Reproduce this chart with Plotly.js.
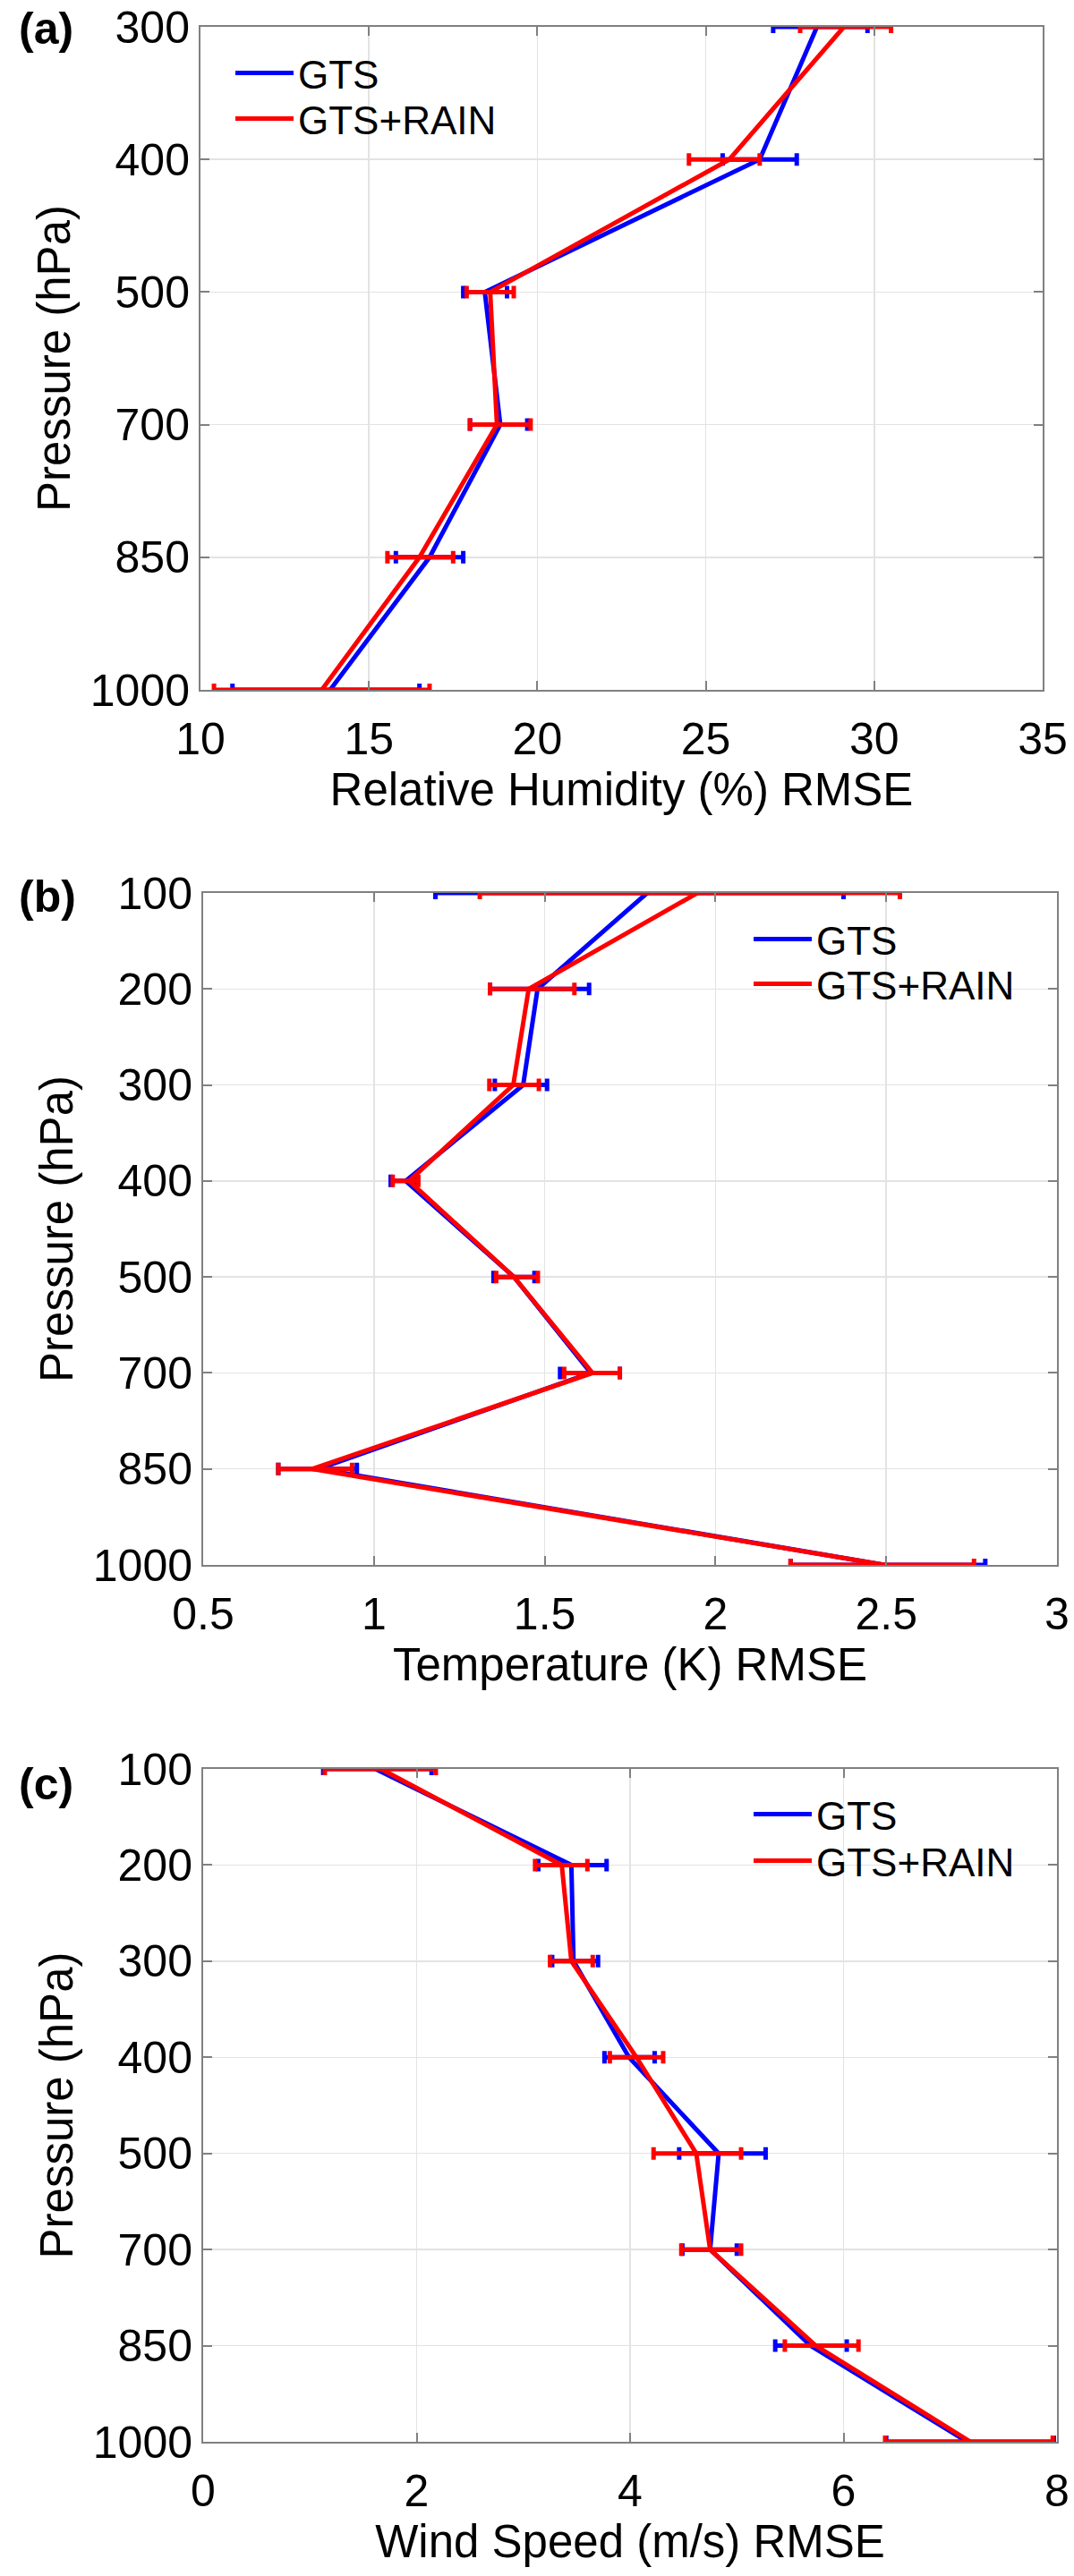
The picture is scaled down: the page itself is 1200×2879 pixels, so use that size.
<!DOCTYPE html>
<html>
<head>
<meta charset="utf-8">
<script src="https://cdn.plot.ly/plotly-3.0.1.min.js"></script>
<style>
  html, body { margin: 0; padding: 0; background: #fff; }
  #graphic { width: 1200px; height: 2879px; }
</style>
</head>
<body>
<div id="graphic"></div>
<script>
// pressure levels (hPa), drawn as equally spaced categories
var levelsA = ['300', '400', '500', '700', '850', '1000'];
var levelsBC = ['100', '200', '300', '400', '500', '700', '850', '1000'];

// (a) relative humidity RMSE (%)
var rhGts = [28.3, 26.6, 18.44, 18.9, 16.8, 13.85];
var rhGtsLo = [27.0, 25.5, 17.8, 18.0, 15.8, 10.95];
var rhGtsHi = [29.8, 27.7, 19.1, 19.7, 17.8, 16.5];
var rhRain = [29.1, 25.7, 18.6, 18.8, 16.5, 13.6];
var rhRainLo = [27.8, 24.5, 17.9, 18.0, 15.55, 10.4];
var rhRainHi = [30.5, 26.6, 19.3, 19.8, 17.5, 16.8];

// (b) temperature RMSE (K)
var tGts = [1.80, 1.479, 1.437, 1.093, 1.41, 1.635, 0.838, 2.495];
var tGtsLo = [1.18, 1.34, 1.354, 1.049, 1.35, 1.545, 0.72, 2.22];
var tGtsHi = [2.375, 1.63, 1.507, 1.12, 1.47, 1.72, 0.95, 2.79];
var tRain = [1.947, 1.453, 1.408, 1.103, 1.41, 1.64, 0.82, 2.495];
var tRainLo = [1.31, 1.34, 1.338, 1.055, 1.358, 1.557, 0.72, 2.22];
var tRainHi = [2.54, 1.587, 1.483, 1.13, 1.48, 1.72, 0.936, 2.757];

// (c) wind speed RMSE (m/s)
var wsGts = [1.614, 3.45, 3.47, 3.99, 4.83, 4.75, 5.69, 7.16];
var wsGtsLo = [1.125, 3.14, 3.27, 3.76, 4.46, 4.49, 5.36, 6.4];
var wsGtsHi = [2.14, 3.78, 3.70, 4.23, 5.27, 5.0, 6.03, 7.97];
var wsRain = [1.665, 3.36, 3.45, 4.06, 4.62, 4.75, 5.74, 7.19];
var wsRainLo = [1.14, 3.11, 3.25, 3.81, 4.22, 4.48, 5.45, 6.39];
var wsRainHi = [2.18, 3.6, 3.65, 4.31, 5.04, 5.04, 6.14, 7.96];

var FONT = 'Liberation Sans, Arial, Helvetica, sans-serif';
var BLUE = '#0000ff';
var RED = '#ff0000';
var W = 1200, H = 2879;

function profile(name, color, levels, vals, lo, hi, xa, ya, leg) {
    return {
        x: vals,
        y: levels,
        type: 'scatter',
        mode: 'lines',
        name: name,
        xaxis: xa,
        yaxis: ya,
        legend: leg,
        cliponaxis: false,
        line: { color: color, width: 5 },
        error_x: {
            type: 'data',
            symmetric: false,
            array: hi.map(function (h, i) { return h - vals[i]; }),
            arrayminus: lo.map(function (l, i) { return vals[i] - l; }),
            color: color,
            thickness: 5,
            width: 7
        },
        hoverinfo: 'skip'
    };
}

var data = [
    profile('GTS', BLUE, levelsA, rhGts, rhGtsLo, rhGtsHi, 'x', 'y', 'legend'),
    profile('GTS+RAIN', RED, levelsA, rhRain, rhRainLo, rhRainHi, 'x', 'y', 'legend2'),
    profile('GTS', BLUE, levelsBC, tGts, tGtsLo, tGtsHi, 'x2', 'y2', 'legend3'),
    profile('GTS+RAIN', RED, levelsBC, tRain, tRainLo, tRainHi, 'x2', 'y2', 'legend4'),
    profile('GTS', BLUE, levelsBC, wsGts, wsGtsLo, wsGtsHi, 'x3', 'y3', 'legend5'),
    profile('GTS+RAIN', RED, levelsBC, wsRain, wsRainLo, wsRainHi, 'x3', 'y3', 'legend6')
];

function xAxis(domain, range, dtick, title, anchor) {
    return {
        domain: domain, range: range, dtick: dtick, tick0: 0, anchor: anchor,
        showline: true, linecolor: '#808080', linewidth: 2, mirror: 'ticks',
        ticks: 'inside', ticklen: 10, tickwidth: 2, tickcolor: '#808080',
        showgrid: true, gridcolor: '#e3e3e3', gridwidth: 1.5, zeroline: false,
        tickfont: { family: FONT, size: 50, color: '#000' },
        ticklabelstandoff: 10,
        title: { text: title, font: { family: FONT, size: 51, color: '#000' }, standoff: 10 }
    };
}

function yAxis(domain, levels, anchor) {
    return {
        domain: domain, type: 'category', categoryarray: levels,
        range: [levels.length - 1, 0], anchor: anchor,
        showline: true, linecolor: '#808080', linewidth: 2, mirror: 'ticks',
        ticks: 'inside', ticklen: 10, tickwidth: 2, tickcolor: '#808080',
        showgrid: true, gridcolor: '#e3e3e3', gridwidth: 1.5, zeroline: false,
        tickfont: { family: FONT, size: 50, color: '#000' },
        ticklabelstandoff: 0,
        title: { text: 'Pressure (hPa)', font: { family: FONT, size: 51, color: '#000' }, standoff: 6 }
    };
}

// one legend per entry, so each row can sit where the reference puts it
function legendRow(xPx, yPx) {
    return {
        x: xPx / W, y: 1 - yPx / H, xanchor: 'left', yanchor: 'middle',
        bgcolor: 'rgba(0,0,0,0)', borderwidth: 0,
        font: { family: FONT, size: 44, color: '#000' },
        itemwidth: 65
    };
}

function panelLabel(text, yPx) {
    return {
        text: '<b>' + text + '</b>', xref: 'paper', yref: 'paper',
        x: 19 / W, y: 1 - yPx / H, xanchor: 'left', yanchor: 'middle',
        showarrow: false, font: { family: FONT, size: 50, color: '#000' }
    };
}

var layout = {
    width: W,
    height: H,
    margin: { l: 0, r: 0, t: 0, b: 0 },
    paper_bgcolor: '#fff',
    plot_bgcolor: '#fff',
    showlegend: true,
    xaxis: xAxis([224 / W, 1165 / W], [10, 35], 5, 'Relative Humidity (%) RMSE', 'y'),
    yaxis: yAxis([1 - 771 / H, 1 - 30 / H], levelsA, 'x'),
    xaxis2: xAxis([227 / W, 1181 / W], [0.5, 3], 0.5, 'Temperature (K) RMSE', 'y2'),
    yaxis2: yAxis([1 - 1749 / H, 1 - 998 / H], levelsBC, 'x2'),
    xaxis3: xAxis([227 / W, 1181 / W], [0, 8], 2, 'Wind Speed (m/s) RMSE', 'y3'),
    yaxis3: yAxis([1 - 2729 / H, 1 - 1977 / H], levelsBC, 'x3'),
    legend: legendRow(258, 82),
    legend2: legendRow(258, 133),
    legend3: legendRow(837, 1050),
    legend4: legendRow(837, 1100),
    legend5: legendRow(837, 2028),
    legend6: legendRow(837, 2080),
    annotations: [
        panelLabel('(a)', 32),
        panelLabel('(b)', 1002),
        panelLabel('(c)', 1994)
    ]
};

Plotly.newPlot(document.getElementById('graphic'), data, layout, { staticPlot: true });
</script>
</body>
</html>
